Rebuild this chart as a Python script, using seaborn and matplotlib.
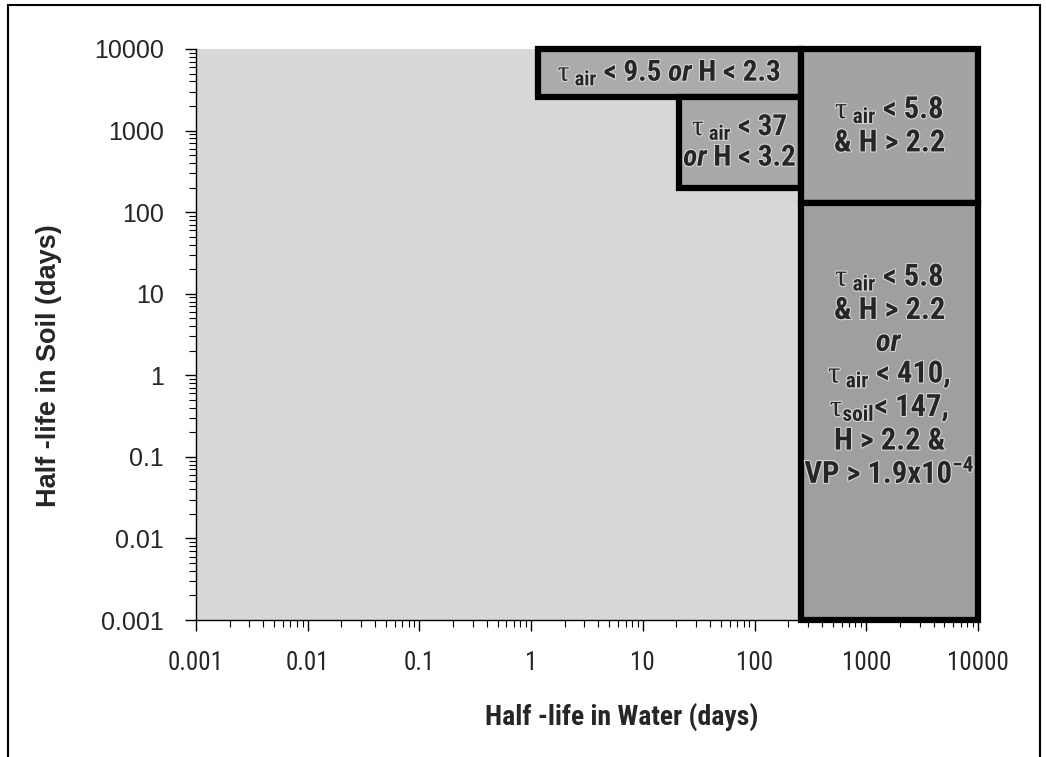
import os
import numpy as np
import matplotlib
matplotlib.use("Agg")
import matplotlib.pyplot as plt
import matplotlib.patheffects as pe
from matplotlib import font_manager as fm
from matplotlib.patches import Rectangle
from matplotlib.ticker import FixedLocator, FixedFormatter, LogLocator, NullFormatter
import seaborn as sns

# axis ticks (log decades)
tick_values = [0.001, 0.01, 0.1, 1, 10, 100, 1000, 10000]
tick_labels = ["0.001", "0.01", "0.1", "1", "10", "100", "1000", "10000"]

# screening regions: water half-life range, soil half-life range (days)
region_x_lo = [1.15, 21, 260, 260]
region_x_hi = [260, 260, 10000, 10000]
region_y_lo = [2600, 200, 130, 0.001]
region_y_hi = [10000, 2600, 10000, 130]
TA = r"$\mathsf{\tau}_{\ \mathrm{air}}$"
TS = r"$\mathsf{\tau}_{\mathrm{soil}}$"
region_labels = [
    TA + r" < 9.5 $\mathit{or}$ H < 2.3",
    TA + " < 37\n$\\mathit{or}$ H < 3.2",
    TA + " < 5.8\n& H > 2.2",
    TA + " < 5.8\n& H > 2.2\n$\\mathit{or}$\n" + TA + " < 410,\n"
    + TS + "< 147,\nH > 2.2 &\nVP > 1.9x10$^{-4}$",
]
region_colors = ["#ababab", "#a8a8a8", "#a3a3a3", "#9f9f9f"]
label_sizes = [21, 21, 22, 22]


def find_narrow():
    cands = [dict(family="Liberation Sans Narrow"),
             dict(family="Roboto Condensed"),
             dict(family="DejaVu Sans Condensed"),
             dict(family="DejaVu Sans", stretch="condensed"),
             dict(family="Open Sans Condensed"),
             dict(family="Open Sans", stretch="condensed")]
    for c in cands:
        try:
            p = fm.findfont(fm.FontProperties(weight="bold", **c),
                            fallback_to_default=False)
        except Exception:
            continue
        b = os.path.basename(p).lower()
        if "condensed" in b or "narrow" in b:
            return c, True
    return dict(family="Liberation Sans"), False


narrow, have_narrow = find_narrow()
pattern = narrow["family"]
if "stretch" in narrow:
    pattern += ":stretch=" + narrow["stretch"]
scale = 1.0 if have_narrow else 0.86

sns.set_theme(style="white")
plt.rcParams["font.family"] = ["Liberation Sans", "DejaVu Sans"]
plt.rcParams["mathtext.fontset"] = "custom"
plt.rcParams["mathtext.rm"] = pattern + ":weight=bold"
plt.rcParams["mathtext.it"] = pattern + ":weight=bold:style=italic"
plt.rcParams["mathtext.bf"] = pattern + ":weight=bold"
plt.rcParams["mathtext.sf"] = "Liberation Serif"

narrow_kw = dict(family=[narrow["family"], "DejaVu Sans"],
                 stretch=narrow.get("stretch", "normal"))

fig = plt.figure(figsize=(10.46, 7.57), dpi=100)
ax = fig.add_axes([196 / 1046, 137 / 757, 782 / 1046, 571 / 757])
ax.set_facecolor("#d8d8d8")

ax.set_xscale("log")
ax.set_yscale("log")
ax.set_xlim(tick_values[0], tick_values[-1])
ax.set_ylim(tick_values[0], tick_values[-1])

# shaded boxes drawn as bars on the log axes
widths = np.array(region_x_hi) - np.array(region_x_lo)
heights = np.array(region_y_hi) - np.array(region_y_lo)
ax.bar(region_x_lo, heights, width=widths, bottom=region_y_lo, align="edge",
       color=region_colors, edgecolor="black", linewidth=4.5, clip_on=False,
       zorder=3)

halo = [pe.withStroke(linewidth=1.6, foreground="#d6d6d6")]
for i, lab in enumerate(region_labels):
    cx = np.sqrt(region_x_lo[i] * region_x_hi[i])
    cy = np.sqrt(region_y_lo[i] * region_y_hi[i])
    dy = 36 if i == 3 else 0
    ax.annotate(lab, (cx, cy), xytext=(0, dy), textcoords="offset pixels",
                ha="center", va="center", fontsize=label_sizes[i] * scale,
                fontweight="bold", linespacing=1.08, multialignment="center",
                path_effects=halo, zorder=5, **narrow_kw)

for axis in (ax.xaxis, ax.yaxis):
    axis.set_major_locator(FixedLocator(tick_values))
    axis.set_major_formatter(FixedFormatter(tick_labels))
    axis.set_minor_locator(LogLocator(base=10, subs=np.arange(2, 10)))
    axis.set_minor_formatter(NullFormatter())

ax.tick_params(axis="both", which="major", direction="out", length=8,
               width=1, color="black", labelsize=18, pad=15)
ax.tick_params(axis="both", which="minor", direction="out", length=5,
               width=0.8, color="black")
ax.tick_params(axis="x", pad=14)
ax.tick_params(left=True, bottom=True, which="both")
if have_narrow:
    for t in ax.get_xticklabels():
        t.set_family(narrow_kw["family"])
        t.set_stretch(narrow_kw["stretch"])
else:
    ax.tick_params(axis="x", labelsize=16)

sns.despine(ax=ax, top=True, right=True)
for s in ("left", "bottom"):
    ax.spines[s].set_color("black")
    ax.spines[s].set_linewidth(1)

if have_narrow:
    ax.set_xlabel("Half -life in Water (days)", fontsize=20, fontweight="bold",
                  **narrow_kw)
else:
    ax.set_xlabel("Half -life in Water (days)", fontsize=17, fontweight="bold")
ax.set_ylabel("Half -life in Soil (days)", fontsize=19.5, fontweight="bold")
ax.xaxis.set_label_coords(0.545, -0.145)
ax.yaxis.set_label_coords(-0.171, 0.445)

# page frame around the scanned figure
fig.add_artist(Rectangle((8 / 1046, -0.02), 1032 / 1046, 1.013,
                         transform=fig.transFigure, fill=False,
                         edgecolor="black", linewidth=1.5))

fig.savefig("out.png", dpi=100, facecolor="white")
